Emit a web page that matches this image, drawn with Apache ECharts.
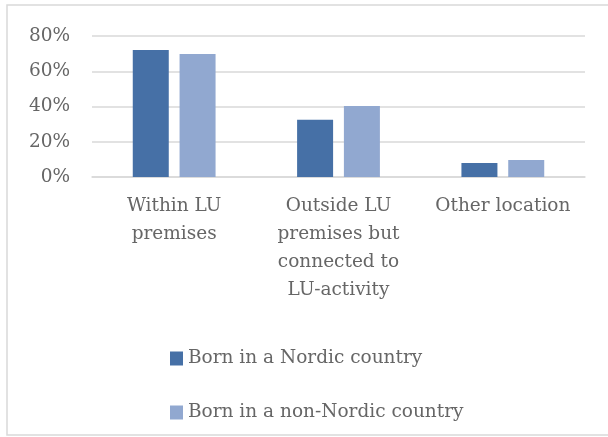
<!DOCTYPE html>
<html>
<head>
<meta charset="utf-8" />
<title>Location by country of birth</title>
<script src="https://cdn.jsdelivr.net/npm/echarts@6/dist/echarts.min.js"></script>
<style>
html, body { margin: 0; padding: 0; background: #fff; }
#chart { width: 608px; height: 437px; }
</style>
</head>
<body>
<div id="chart"></div>
<script type="text/javascript">
// categories
var categories = ['Within LU\npremises', 'Outside LU\npremises but\nconnected to\nLU-activity', 'Other location'];
// series
var seriesNames = ['Born in a Nordic country', 'Born in a non-Nordic country'];
var nordic = [72, 32.5, 8];
var nonNordic = [69.8, 40.3, 9.7];
// y ticks
var yTicks = [0, 20, 40, 60, 80];

var font = '"DejaVu Serif", "Liberation Serif", serif';
var chart = echarts.init(document.getElementById('chart'));
chart.setOption({
	animation: false,
	textStyle: { fontFamily: font },
	color: ['#4670a6', '#91a8d0'],
	graphic: [{
		type: 'rect',
		shape: { x: 7, y: 5, width: 640, height: 430 },
		style: { fill: 'none', stroke: '#d9d9d9', lineWidth: 1.5 },
		silent: true
	}],
	grid: { left: 92, right: 23, top: 36, bottom: 260 },
	legend: {
		data: seriesNames,
		orient: 'vertical',
		left: 165,
		top: 344,
		itemWidth: 13,
		itemHeight: 14,
		itemGap: 35,
		icon: 'rect',
		textStyle: { fontFamily: font, fontSize: 18.5, color: '#666666' }
	},
	xAxis: {
		type: 'category',
		data: categories,
		axisLine: { lineStyle: { color: '#d9d9d9', width: 1.5 } },
		axisTick: { show: false },
		axisLabel: {
			interval: 0,
			margin: 15,
			fontFamily: font,
			fontSize: 18.5,
			lineHeight: 28,
			color: '#666666'
		}
	},
	yAxis: {
		type: 'value',
		min: yTicks[0],
		max: yTicks[yTicks.length - 1],
		interval: 20,
		axisLine: { show: false },
		axisTick: { show: false },
		splitLine: { lineStyle: { color: '#d9d9d9', width: 1.5 } },
		axisLabel: {
			margin: 22,
			fontFamily: font,
			fontSize: 18.5,
			color: '#666666',
			formatter: '{value}%'
		}
	},
	series: [{
		name: seriesNames[0],
		type: 'bar',
		data: nordic,
		barWidth: 36,
		barGap: '30%'
	}, {
		name: seriesNames[1],
		type: 'bar',
		data: nonNordic,
		barWidth: 36
	}]
});
</script>
</body>
</html>
